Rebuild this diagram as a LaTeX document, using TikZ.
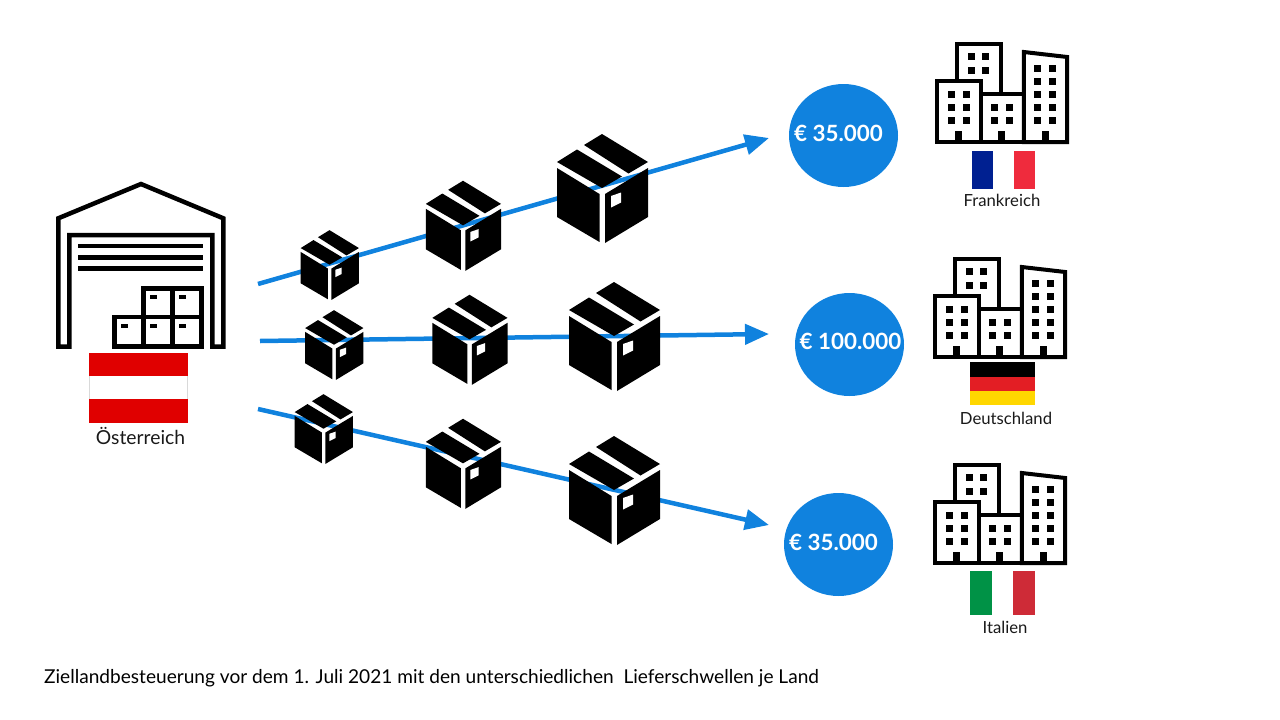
\documentclass[tikz,border=0pt]{standalone}
\usepackage{fontspec}
\setmainfont{Lato}
\usetikzlibrary{arrows.meta}
\usetikzlibrary{shapes.geometric}
\definecolor{flowblue}{RGB}{16, 130, 222}
\definecolor{atred}{RGB}{224, 0, 0}
\definecolor{frblue}{RGB}{0, 32, 145}
\definecolor{frred}{RGB}{239, 43, 61}
\definecolor{degold}{RGB}{255, 215, 0}
\definecolor{dered}{RGB}{227, 30, 36}
\definecolor{itgreen}{RGB}{0, 146, 70}
\definecolor{itred}{RGB}{206, 43, 55}
\tikzset{
    flow/.style={flowblue, line width=4.5pt, -{Triangle[length=24pt,width=20pt]}},
    limit/.style={ellipse, fill=flowblue, minimum width=109pt, minimum height=103pt, inner sep=0pt},
    amount/.style={text=white, font=\fontsize{22.4}{24}\selectfont\bfseries, inner sep=0pt},
    country/.style={text=black!90, font=\fontsize{16.7}{18}\selectfont, inner sep=0pt},
    outline/.style={line width=4.5pt, miter limit=10},
    pics/parcel/.style={code={
        \fill[black] (-45,-22) -- (-2.5,4) -- (-2.5,52) -- (-45,27) -- cycle;
        \fill[black] (3,4) -- (46,-22) -- (46,27) -- (3,53) -- cycle;
        \fill[black] (-45,-28) -- (-25,-40.5) -- (20,-13.5) -- (0,-2) -- cycle;
        \fill[black] (0,-56) -- (46,-28) -- (26.5,-16.5) -- (-18,-45) -- cycle;
        \fill[white] (9,6) -- (19,2.5) -- (19,12.5) -- (9,17.5) -- cycle;
    }},
    pics/city/.style={code={
        \draw[outline, line width=4pt] (20,-63) -- (20,-99.5) -- (64,-99.5) -- (64,-50);
        \draw[outline, line width=4pt] (0,-1) rectangle (44.7,-62);
        \draw[outline, line width=4pt] (44.7,-1) -- (44.7,-49) -- (87.3,-49) -- (87.3,-1) -- cycle;
        \draw[outline, line width=4pt] (87.3,-1) -- (87.3,-91) -- (130.7,-86) -- (130.7,-1) -- cycle;
        \foreach \x in {15,29.7}
            \foreach \y in {-48.7,-35.7,-22.3}
                \fill (\x-3.5,\y-3.5) rectangle (\x+3.5,\y+3.5);
        \foreach \x in {34.7,49.3}
            \foreach \y in {-87,-73}
                \fill (\x-3.5,\y-3.5) rectangle (\x+3.5,\y+3.5);
        \foreach \x in {58,72.7}
            \foreach \y in {-35.7,-22.3}
                \fill (\x-3.5,\y-3.5) rectangle (\x+3.5,\y+3.5);
        \foreach \x in {101.3,116}
            \foreach \y in {-74.7,-61.3,-48.7,-35.7,-22.3}
                \fill (\x-3.5,\y-3.5) rectangle (\x+3.5,\y+3.5);
        \foreach \x in {22.3,65.3,108.7}
            \fill (\x-3.5,-12) rectangle (\x+3.5,0);
    }},
}
\begin{document}
\begin{tikzpicture}[x=1pt, y=-1pt]
    \useasboundingbox (0,0) rectangle (1280,720);
    % flows
    \coordinate (startfr) at (258,284);
    \coordinate (endfr) at (769,138);
    \coordinate (startde) at (260,341);
    \coordinate (endde) at (769,334);
    \coordinate (startit) at (258,409);
    \coordinate (endit) at (769,525);
    \draw[flow] (startfr) -- (endfr);
    \draw[flow] (startde) -- (endde);
    \draw[flow] (startit) -- (endit);
    % parcels
    \pic[scale=.64] at (329.5,266) {parcel};
    \pic[scale=.826] at (463,227) {parcel};
    \pic at (602,190) {parcel};
    \pic[scale=.64] at (334,346) {parcel};
    \pic[scale=.826] at (469.5,341) {parcel};
    \pic at (614,338) {parcel};
    \pic[scale=.64] at (323.5,430) {parcel};
    \pic[scale=.826] at (463,465) {parcel};
    \pic at (614,492) {parcel};
    % warehouse
    \draw[outline] (69.3,346.7) -- (69.3,235) -- (212.3,235) -- (212.3,346.7) -- (223.3,346.7)
        -- (223.3,218.3) -- (141,184) -- (58.3,218.3) -- (58.3,346.7) -- cycle;
    \foreach \y in {246,257.3,268.3}
        \draw[line width=4.5pt] (78.3,\y) -- (203.3,\y);
    \draw[outline] (114.5,346.7) rectangle (201.7,317);
    \draw[outline] (143.3,346.7) -- (143.3,288.3) -- (201.7,288.3) -- (201.7,317);
    \draw[outline] (172.3,346.7) -- (172.3,288.3);
    \foreach \x in {150,179}
        \fill (\x,295) rectangle (\x+6.7,299.3);
    \foreach \x in {121,150,179}
        \fill (\x,324) rectangle (\x+6.7,328.3);
    % austria
    \fill[atred] (89.3,352.7) rectangle (187.7,376.3);
    \fill[atred] (89.3,399.3) rectangle (187.7,422.7);
    \draw[black!15, line width=.6pt] (89.3,376.3) -- (89.3,399.3) (187.7,376.3) -- (187.7,399.3);
    \node[country, font=\fontsize{19.3}{21}\selectfont] (austria) at (140.5,436) {Österreich};
    % limits
    \node[limit] (limitfr) at (843.5,135.5) {};
    \node[limit] (limitde) at (849.5,344.5) {};
    \node[limit] (limitit) at (838.5,544.5) {};
    \node[amount] (amountfr) at (838.5,133) {€ 35.000};
    \node[amount] (amountde) at (850.5,341) {€ 100.000};
    \node[amount] (amountit) at (833.5,542) {€ 35.000};
    % cities
    \pic at (936.5,143) {city};
    \pic at (934.5,358) {city};
    \pic at (934.5,564) {city};
    % flags
    \fill[frblue] (972,151) rectangle (993,189);
    \fill[frred] (1014,151) rectangle (1035,189);
    \fill[black] (970,362) rectangle (1035,376.5);
    \fill[dered] (970,376.5) rectangle (1035,390.5);
    \fill[degold] (970,390.5) rectangle (1035,405);
    \fill[itgreen] (970,571) rectangle (992,615);
    \fill[itred] (1013,571) rectangle (1035,615);
    \node[country] (france) at (1002,200.5) {Frankreich};
    \node[country] (germany) at (1006,418) {Deutschland};
    \node[country] (italy) at (1005,627) {Italien};
    % caption
    \node[anchor=west, inner sep=0pt, font=\fontsize{19.1}{22}\selectfont] (caption) at (44,678) {Ziellandbesteuerung vor dem 1. Juli 2021 mit den unterschiedlichen\ \ Lieferschwellen je Land};
\end{tikzpicture}
\end{document}
